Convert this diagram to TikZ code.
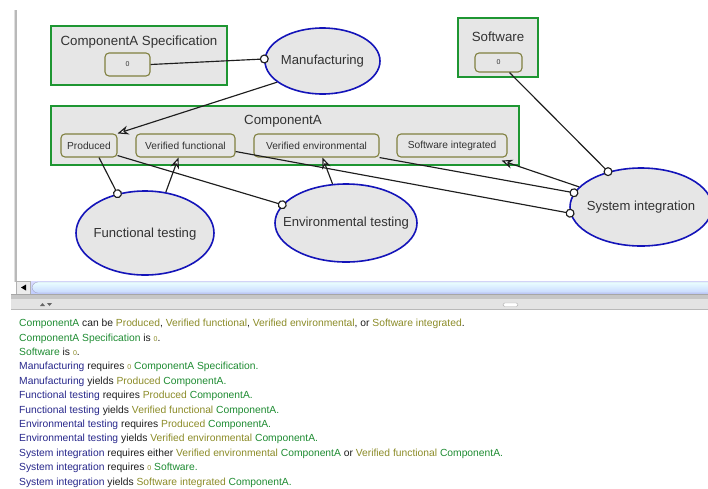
\documentclass[tikz,border=0pt]{standalone}
\usepackage{fontspec}
\setmainfont{Liberation Sans}
\usetikzlibrary{shapes.geometric,arrows.meta}
\definecolor{boxgray}{RGB}{230,230,230}
\definecolor{grn}{RGB}{30,150,50}
\definecolor{olv}{RGB}{128,128,64}
\definecolor{blu}{RGB}{20,20,185}
\definecolor{txt}{RGB}{50,50,50}
\definecolor{tgreen}{RGB}{30,140,50}
\definecolor{tolive}{RGB}{140,140,40}
\definecolor{tblue}{RGB}{40,40,140}
\definecolor{tblack}{RGB}{30,30,30}
\newcommand\Cgr[1]{\textcolor{tgreen}{#1}}
\newcommand\Col[1]{\textcolor{tolive}{#1}}
\newcommand\Cbl[1]{\textcolor{tblue}{#1}}
\newcommand\Zr{\textcolor{tolive}{\fontsize{7}{8}\selectfont 0}}
\tikzset{
  classbox/.style={draw=grn, fill=boxgray, line width=1.8pt, rectangle, inner sep=0pt},
  statebox/.style={draw=olv, fill=boxgray, line width=1.1pt, rectangle, rounded corners=4pt, inner sep=0pt, minimum height=23pt, text=txt, font=\fontsize{10.2}{12}\selectfont},
  title/.style={text=txt, font=\fontsize{13.3}{15}\selectfont, inner sep=0pt},
  proc/.style={draw=blu, fill=boxgray, line width=1.6pt, ellipse, inner sep=0pt},
  proclabel/.style={text=txt, font=\fontsize{13.1}{15}\selectfont, inner sep=0pt},
  req/.style={line width=1.15pt, draw=tblack, -{Circle[length=9pt,fill=white]}, shorten >=-4.5pt},
  yld/.style={line width=1.15pt, draw=tblack, -{Stealth[length=11pt,width=9pt,inset=3.5pt,fill=white]}},
  sent/.style={anchor=base west, inner sep=0pt, text=tblack, font=\fontsize{10.3}{12}\selectfont},
}
\begin{document}
\begin{tikzpicture}[x=1pt,y=-1pt]
\fill[white] (0,0) rectangle (708,488);
\useasboundingbox (0,0) rectangle (708,488);
\begin{scope}
\clip (0,0) rectangle (708,488);
% window chrome
\draw[gray!55, line width=1.5pt] (16,10) -- (16,282);
\draw[gray!25, line width=0.8pt] (14,10) -- (14,282);
\shade[top color=white!85!cyan!30!blue!20, bottom color=cyan!20!blue!25] (16,281) rectangle (708,294);
\fill[gray!15] (16,281) rectangle (30,294);
\draw[gray!60] (16,281) rectangle (30,294);
\fill[black] (21,287.5) -- (26,284.5) -- (26,290.5) -- cycle;
\shade[top color=cyan!8, bottom color=cyan!30!blue!22, draw=blue!20!gray!60, rounded corners=6pt] (32,282) rectangle (720,293);
\fill[gray!70] (11,293.5) rectangle (708,295);
\fill[gray!45] (11,295) rectangle (708,299);
\fill[gray!22] (11,299) rectangle (708,309);
\draw[gray!55] (11,309.5) -- (708,309.5);
\fill[gray!80!black] (40,306) -- (42.5,303) -- (45,306) -- cycle;
\fill[gray!80!black] (47,303) -- (49.5,306) -- (52,303) -- cycle;
\draw[gray!60, fill=white, rounded corners=1.5pt] (503,303) rectangle (518,306.5);
% class boxes
\node[classbox, minimum width=176pt, minimum height=59pt] (spec) at (139,55.5) {};
\node[title] (specT) at (139,42) {ComponentA Specification};
\node[statebox, minimum width=45pt, font=\fontsize{7}{8}\selectfont] (spec0) at (127.5,64.5) {0};
\node[classbox, minimum width=80pt, minimum height=59pt] (sw) at (498,47.5) {};
\node[title] (swT) at (498,37) {Software};
\node[statebox, minimum width=47pt, minimum height=19pt, font=\fontsize{7}{8}\selectfont] (sw0) at (498.5,62.5) {0};
\node[classbox, minimum width=468pt, minimum height=59pt] (compA) at (285,135.5) {};
\node[title] (compAT) at (283,121) {ComponentA};
\node[statebox, minimum width=56pt] (prod) at (89,145.5) {Produced};
\node[statebox, minimum width=99pt] (vf) at (185.5,145.5) {Verified functional};
\node[statebox, minimum width=125pt] (ve) at (316.5,145.5) {Verified environmental};
\node[statebox, minimum width=110pt] (swi) at (452,145.5) {Software integrated};
% processes
\node[proc, minimum width=115pt, minimum height=66pt] (manu) at (322.5,61) {};
\node[proclabel] (manuT) at (manu.center) {Manufacturing};
\node[proc, minimum width=138pt, minimum height=84pt] (ft) at (145,233) {};
\node[proclabel] (ftT) at ([yshift=-1pt]ft.center) {Functional testing};
\node[proc, minimum width=142pt, minimum height=78pt] (et) at (346,223) {};
\node[proclabel] (etT) at (et.center) {Environmental testing};
\node[proc, minimum width=142pt, minimum height=78pt] (si) at (641,207) {};
\node[proclabel] (siT) at (si.center) {System integration};
% connectors
\draw[req] (spec0.east) -- (manu.178);
\draw[yld] (manu.205) -- (prod.north east);
\draw[req] ([xshift=10pt]prod.south) -- (ft.125);
\draw[yld] (ft.63) -- ([xshift=-7pt]vf.south);
\draw[req] ([yshift=2pt]prod.south east) -- (et.164);
\draw[yld] (et.109) -- ([xshift=6pt]ve.south);
\draw[req] ([yshift=-6pt]vf.east) -- (si.185);
\draw[req] (ve.south east) -- (si.168);
\draw[yld] (si.162) -- ([xshift=-6pt,yshift=-3pt]swi.south east);
\draw[req] ([xshift=11pt]sw0.south) -- (si.133);
% sentences
\node[sent] (s1) at (19,326.5) {\Cgr{ComponentA} can be \Col{Produced}, \Col{Verified functional}, \Col{Verified environmental}, or \Col{Software integrated}.};
\node[sent] (s2) at (19,341) {\Cgr{ComponentA Specification} is \Zr.};
\node[sent] (s3) at (19,355.4) {\Cgr{Software} is \Zr.};
\node[sent] (s4) at (19,369.8) {\Cbl{Manufacturing} requires \Zr{} \Cgr{ComponentA Specification.}};
\node[sent] (s5) at (19,384.2) {\Cbl{Manufacturing} yields \Col{Produced} \Cgr{ComponentA.}};
\node[sent] (s6) at (19,398.6) {\Cbl{Functional testing} requires \Col{Produced} \Cgr{ComponentA.}};
\node[sent] (s7) at (19,413) {\Cbl{Functional testing} yields \Col{Verified functional} \Cgr{ComponentA.}};
\node[sent] (s8) at (19,427.4) {\Cbl{Environmental testing} requires \Col{Produced} \Cgr{ComponentA.}};
\node[sent] (s9) at (19,441.8) {\Cbl{Environmental testing} yields \Col{Verified environmental} \Cgr{ComponentA.}};
\node[sent] (s10) at (19,456.2) {\Cbl{System integration} requires either \Col{Verified environmental} \Cgr{ComponentA} or \Col{Verified functional} \Cgr{ComponentA.}};
\node[sent] (s11) at (19,470.6) {\Cbl{System integration} requires \Zr{} \Cgr{Software.}};
\node[sent] (s12) at (19,485) {\Cbl{System integration} yields \Col{Software integrated} \Cgr{ComponentA.}};
\end{scope}
\end{tikzpicture}
\end{document}
